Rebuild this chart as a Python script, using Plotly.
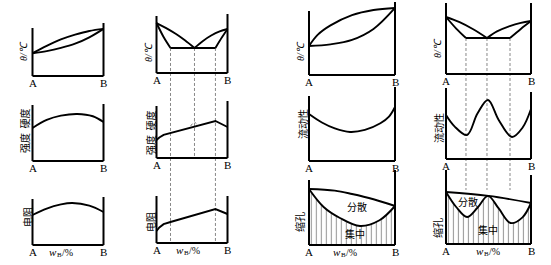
import plotly.graph_objects as go

# ================= DATA =================
# composition (A -> B) on x in 0..1, property values on y in relative units 0..100
# ---- Row 1: phase diagrams (θ/℃) ----
p1_liq_x = [0, 0.2, 0.4, 0.6, 0.8, 1]
p1_liq_y = [43, 57, 69, 78, 85, 89]
p1_sol_x = [0, 0.2, 0.4, 0.6, 0.8, 1]
p1_sol_y = [43, 47, 53, 61, 73, 89]

p2_liq_left_x = [0, 0.13, 0.27, 0.40, 0.535]
p2_liq_left_y = [84.7, 76.5, 66.5, 55.5, 42.4]
p2_sol_left_x = [0, 0.10, 0.197]
p2_sol_left_y = [84.7, 61, 42.4]
p2_liq_right_x = [0.535, 0.65, 0.77, 0.89, 1]
p2_liq_right_y = [42.4, 54, 63.5, 70.5, 74.6]
p2_sol_right_x = [0.83, 0.92, 1]
p2_sol_right_y = [42.4, 60, 74.6]
p2_eut_x = [0.197, 0.83]
p2_eut_y = [42.4, 42.4]
p2_key_comp = [0.197, 0.535, 0.83]

p3_liq_x = [0, 0.1, 0.25, 0.5, 0.75, 1]
p3_liq_y = [39.7, 55, 68, 82, 89, 91.8]
p3_sol_x = [0, 0.25, 0.5, 0.75, 1]
p3_sol_y = [39.7, 42, 48, 63, 91.8]

p4_liq_left_x = [0, 0.16, 0.32, 0.482]
p4_liq_left_y = [80.3, 73, 63, 50.7]
p4_sol_left_x = [0, 0.12, 0.235]
p4_sol_left_y = [80.3, 64, 50.7]
p4_liq_right_x = [0.482, 0.6, 0.75, 0.88, 1]
p4_liq_right_y = [50.7, 60, 67.5, 72, 74.6]
p4_sol_right_x = [0.753, 0.88, 1]
p4_sol_right_y = [50.7, 63.5, 74.6]
p4_eut_x = [0.235, 0.753]
p4_eut_y = [50.7, 50.7]
p4_key_comp = [0.235, 0.482, 0.753]

# ---- Row 2: strength/hardness and fluidity ----
p5_x = [0, 0.2, 0.4, 0.63, 0.85, 1]
p5_y = [57.9, 72, 79.5, 82.5, 78.5, 68.4]
p6_x = [0, 0.04, 0.1, 0.197, 0.83, 1]
p6_y = [31.6, 36, 40.5, 43.9, 64.9, 54.4]
p6_caret_x = [0.48, 0.53, 0.58]
p6_caret_y = [56, 64, 58]
p7_x = [0, 0.15, 0.3, 0.477, 0.65, 0.83, 0.93, 1]
p7_y = [63.5, 52, 44, 39.2, 42, 51, 60, 73]
p8_x = [0, 0.1, 0.247, 0.37, 0.494, 0.62, 0.776, 0.9, 1]
p8_y = [62, 46, 33.8, 64, 83.1, 55, 31, 44, 70.4]

# ---- Row 3: resistivity and shrinkage ----
p9_x = [0, 0.2, 0.4, 0.56, 0.8, 1]
p9_y = [62.5, 76, 84.5, 87.5, 82, 68.75]
p10_x = [0, 0.04, 0.1, 0.197, 0.83, 1]
p10_y = [25.5, 33, 40, 44.7, 72.3, 61.7]
p11_up_x = [0, 0.3, 0.5, 0.75, 1]
p11_up_y = [74.7, 72.5, 68, 61, 52]
p11_lo_x = [0, 0.17, 0.36, 0.593, 0.82, 1]
p11_lo_y = [74.7, 50.7, 36, 25.3, 33, 52]
p12_up_x = [0, 0.5, 1]
p12_up_y = [70.3, 65, 55.4]
p12_lo_x = [0, 0.12, 0.247, 0.37, 0.494, 0.62, 0.76, 0.9, 1]
p12_lo_y = [70.3, 50, 36.5, 49, 65, 48, 28.4, 36, 55.4]

y_labels = ["θ/℃", "θ/℃", "θ/℃", "θ/℃",
            "强度  硬度", "强度  硬度", "流动性", "流动性",
            "电阻", "电阻", "缩孔", "缩孔"]

# ================= LAYOUT GEOMETRY =================
W, H = 551, 265
COL_X = [(32.5, 103.5), (156.5, 227.5), (309.0, 395.0), (446.0, 531.0)]
PANEL_Y = [(76, 23), (73, 14), (75, 2), (74, 3),
           (161, 104), (158, 101), (161, 87), (159, 88),
           (245, 197), (243, 196), (245, 170), (244, 170)]
FRAME_TOPS = [(90.6, 100), (96.6, 100), (87.7, 100), (100, 100),
              (98.2, 100), (91.2, 100), (87.8, 100), (100, 94.4),
              (95.8, 100), (100, 100), (86.7, 100), (100, 93.2)]
YLAB_POS = [(24, 51), (149, 52), (300, 51), (437, 48),
            (24, 131), (150, 133), (303, 124), (438, 128),
            (27, 217), (150, 222), (299, 222), (437, 228)]
WB_X = [0.40, 0.44, 0.42, 0.49]
PADX, PADY = 0.06, 5.0

fig = go.Figure()
lay = {}
rng = {}
for i in range(12):
    col = i % 4
    x0, x1 = COL_X[col]
    w = x1 - x0
    bot, top = PANEL_Y[i]
    h = bot - top
    px_l, px_r = x0 - PADX * w, x1 + PADX * w
    py_b = bot + PADY / 100 * h
    py_t = max(0.0, top - PADY / 100 * h)
    xr = [-PADX, 1 + PADX]
    yr = [-(py_b - bot) / h * 100, (bot - py_t) / h * 100]
    dom_x = [px_l / W, px_r / W]
    dom_y = [1 - py_b / H, 1 - py_t / H]
    sfx = "" if i == 0 else str(i + 1)
    lay["xaxis" + sfx] = dict(domain=dom_x, range=xr, visible=False, fixedrange=True,
                              anchor="y" + sfx)
    lay["yaxis" + sfx] = dict(domain=dom_y, range=yr, visible=False, fixedrange=True,
                              anchor="x" + sfx)
    rng[i] = (dom_y, yr)


def ax(i):
    s = "" if i == 0 else str(i + 1)
    return "x" + s, "y" + s


def paper_y(i, val):
    (d0, d1), (r0, r1) = rng[i]
    return d0 + (val - r0) / (r1 - r0) * (d1 - d0)


def curve(i, xs, ys, shape="spline", width=1.9, **kw):
    xa, ya = ax(i)
    fig.add_trace(go.Scatter(x=xs, y=ys, xaxis=xa, yaxis=ya, mode="lines",
                             line=dict(color="black", width=width, shape=shape),
                             hoverinfo="skip", showlegend=False, **kw))


hatch = dict(shape="|", size=5, solidity=0.22, fgcolor="#333", bgcolor="rgba(0,0,0,0)")

# row 1
curve(0, p1_liq_x, p1_liq_y)
curve(0, p1_sol_x, p1_sol_y)
curve(1, p2_liq_left_x, p2_liq_left_y)
curve(1, p2_sol_left_x, p2_sol_left_y)
curve(1, p2_liq_right_x, p2_liq_right_y)
curve(1, p2_sol_right_x, p2_sol_right_y)
curve(1, p2_eut_x, p2_eut_y, shape="linear")
curve(2, p3_liq_x, p3_liq_y)
curve(2, p3_sol_x, p3_sol_y)
curve(3, p4_liq_left_x, p4_liq_left_y)
curve(3, p4_sol_left_x, p4_sol_left_y)
curve(3, p4_liq_right_x, p4_liq_right_y)
curve(3, p4_sol_right_x, p4_sol_right_y)
curve(3, p4_eut_x, p4_eut_y, shape="linear")
# row 2
curve(4, p5_x, p5_y)
curve(5, p6_x, p6_y, shape="linear")
xa, ya = ax(5)
fig.add_trace(go.Scatter(x=p6_caret_x, y=p6_caret_y, xaxis=xa, yaxis=ya, mode="lines",
                         line=dict(color="#777", width=1, dash="dot"),
                         hoverinfo="skip", showlegend=False))
curve(6, p7_x, p7_y)
curve(7, p8_x, p8_y)
# row 3
curve(8, p9_x, p9_y)
curve(9, p10_x, p10_y, shape="linear")
curve(10, p11_lo_x, p11_lo_y, fill="tozeroy", fillpattern=hatch, fillcolor="rgba(0,0,0,0)")
curve(10, p11_up_x, p11_up_y)
curve(11, p12_lo_x, p12_lo_y, fill="tozeroy", fillpattern=hatch, fillcolor="rgba(0,0,0,0)")
curve(11, p12_up_x, p12_up_y)

shapes = []
annotations = []
serif = "Liberation Serif"
cjk = "Noto Sans CJK SC"
for i in range(12):
    xa, ya = ax(i)
    lt, rt = FRAME_TOPS[i]
    ln = dict(color="black", width=2)
    shapes.append(dict(type="line", xref=xa, yref=ya, x0=0, x1=0, y0=0, y1=lt, line=ln))
    shapes.append(dict(type="line", xref=xa, yref=ya, x0=1, x1=1, y0=0, y1=rt, line=ln))
    shapes.append(dict(type="line", xref=xa, yref=ya, x0=0, x1=1, y0=0, y1=0, line=ln))
    # A / B labels
    for xv, t in ((0, "A"), (1, "B")):
        annotations.append(dict(xref=xa, yref=ya, x=xv, y=0, yshift=-7, text=t,
                                showarrow=False, xanchor="center", yanchor="middle",
                                font=dict(family=serif, size=11, color="black")))
    # y label
    col = i % 4
    x0, x1 = COL_X[col]
    bot, top = PANEL_Y[i]
    lpx, lpy = YLAB_POS[i]
    is_theta = i < 4
    fnt = dict(family=serif if is_theta else cjk, size=10, color="black")
    if is_theta:
        fnt.update(style="italic")
    annotations.append(dict(xref=xa, yref=ya, x=0, y=(bot - lpy) / (bot - top) * 100,
                            xshift=lpx - x0, text=y_labels[i], textangle=-90,
                            showarrow=False, xanchor="center", yanchor="middle",
                            font=fnt))
    if i >= 8:
        # w_B/% composed of plain pieces
        common = dict(xref=xa, yref=ya, x=WB_X[col], y=0, showarrow=False,
                      yanchor="middle", borderpad=0, borderwidth=0)
        annotations.append(dict(common, yshift=-7, xshift=-4, text="w", xanchor="right",
                                font=dict(family=serif, size=11, color="black",
                                          style="italic")))
        annotations.append(dict(common, yshift=-10, xshift=-4, text="B", xanchor="left",
                                font=dict(family=serif, size=7, color="black")))
        annotations.append(dict(common, yshift=-7, xshift=1, text="/%", xanchor="left",
                                font=dict(family=serif, size=10, color="black")))

# region texts
for i, xv, yv, t in ((10, 0.56, 50.7, "分散"), (10, 0.53, 16, "集中"),
                     (11, 0.26, 56.8, "分散"), (11, 0.49, 19, "集中")):
    xa, ya = ax(i)
    annotations.append(dict(xref=xa, yref=ya, x=xv, y=yv, text=t, showarrow=False,
                            font=dict(family=cjk, size=10, color="black")))

# dashed guide lines through the key compositions
dash_ln = dict(color="#888", width=1, dash="3px,2px")
xa2, _ = ax(1)
for k, c in enumerate(p2_key_comp):
    end_panel = 5 if k == 1 else 9
    shapes.append(dict(type="line", xref=xa2, yref="paper", x0=c, x1=c,
                       y0=paper_y(1, p2_eut_y[0]), y1=paper_y(end_panel, 0),
                       line=dash_ln, layer="below"))
xa4, _ = ax(3)
for c in p4_key_comp:
    shapes.append(dict(type="line", xref=xa4, yref="paper", x0=c, x1=c,
                       y0=paper_y(3, p4_eut_y[0]), y1=paper_y(11, 73),
                       line=dash_ln, layer="below"))

fig.update_layout(width=W, height=H, margin=dict(l=0, r=0, t=0, b=0),
                  paper_bgcolor="white", plot_bgcolor="rgba(0,0,0,0)",
                  showlegend=False, shapes=shapes, annotations=annotations, **lay)

fig.write_html("out.html")
